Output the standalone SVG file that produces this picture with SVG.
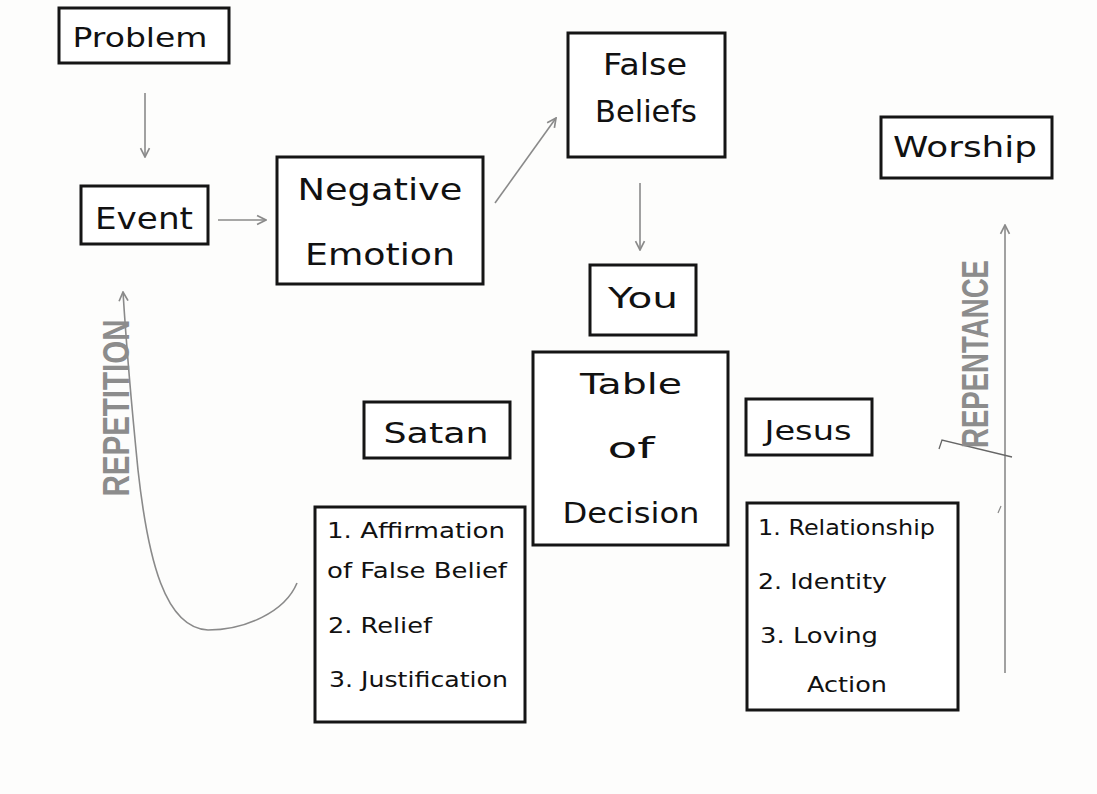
<svg xmlns="http://www.w3.org/2000/svg" width="1097" height="794" viewBox="0 0 1097 794">
<style>
.box{fill:#fff;stroke:#151515;stroke-width:3}
.t{font-family:"DejaVu Sans","Liberation Sans",sans-serif;fill:#111;text-anchor:middle}
.l{font-family:"DejaVu Sans","Liberation Sans",sans-serif;fill:#111;font-size:21px}
.c{fill:none;stroke:#8a8a8a;stroke-width:1.6}
.v{font-family:"Liberation Sans","DejaVu Sans",sans-serif;font-weight:bold;fill:#8c8c8c;text-anchor:middle}
</style>
<defs>
<marker id="ah" viewBox="0 0 10 10" refX="9" refY="5" markerWidth="7" markerHeight="7" orient="auto" markerUnits="strokeWidth">
<path d="M1,1 L9,5 L1,9" fill="none" stroke="#8a8a8a" stroke-width="1.5"/>
</marker>
</defs>
<rect x="0" y="0" width="1097" height="794" fill="#fdfdfc"/>
<g id="connectors">
<line class="c" x1="145" y1="93" x2="145" y2="157" marker-end="url(#ah)"/>
<line class="c" x1="218" y1="220" x2="266" y2="220" marker-end="url(#ah)"/>
<line class="c" x1="495" y1="203" x2="556" y2="118" marker-end="url(#ah)"/>
<line class="c" x1="640" y1="183" x2="640" y2="250" marker-end="url(#ah)"/>
<path class="c" d="M297,583 C285,612 245,630 208,630 C165,628 148,560 138,470 C132,410 126,340 123,292" marker-end="url(#ah)"/>
<line class="c" x1="1005" y1="673" x2="1005" y2="225" marker-end="url(#ah)"/>
<path d="M939,449 L942,440 L1012,457" fill="none" stroke="#666" stroke-width="1.3"/>
<path d="M998,513 L1001,506" fill="none" stroke="#888" stroke-width="1.2"/>
<text class="v" font-size="36" transform="translate(129,408) rotate(-90)" textLength="177" lengthAdjust="spacingAndGlyphs">REPETITION</text>
<text class="v" font-size="36" transform="translate(988,354) rotate(-90)" textLength="188" lengthAdjust="spacingAndGlyphs">REPENTANCE</text>
</g>
<g id="problem"><rect class="box" x="59" y="8" width="170" height="55"/><text class="t" x="140" y="47" font-size="27" textLength="135" lengthAdjust="spacingAndGlyphs">Problem</text></g>
<g id="event"><rect class="box" x="81" y="186" width="127" height="58"/><text class="t" x="144" y="229" font-size="31" textLength="98" lengthAdjust="spacingAndGlyphs">Event</text></g>
<g id="negative-emotion"><rect class="box" x="277" y="157" width="206" height="127"/><text class="t" x="380" y="200" font-size="30" textLength="165" lengthAdjust="spacingAndGlyphs">Negative</text><text class="t" x="380" y="265" font-size="30" textLength="150" lengthAdjust="spacingAndGlyphs">Emotion</text></g>
<g id="false-beliefs"><rect class="box" x="568" y="33" width="157" height="124"/><text class="t" x="645" y="75" font-size="30" textLength="84" lengthAdjust="spacingAndGlyphs">False</text><text class="t" x="646" y="122" font-size="30" textLength="102" lengthAdjust="spacingAndGlyphs">Beliefs</text></g>
<g id="worship"><rect class="box" x="881" y="117" width="171" height="61"/><text class="t" x="965" y="157" font-size="28" textLength="144" lengthAdjust="spacingAndGlyphs">Worship</text></g>
<g id="you"><rect class="box" x="590" y="265" width="106" height="70"/><text class="t" x="643" y="308" font-size="29" textLength="70" lengthAdjust="spacingAndGlyphs">You</text></g>
<g id="table-of-decision"><rect class="box" x="533" y="352" width="195" height="193"/><text class="t" x="631" y="394" font-size="29" textLength="102" lengthAdjust="spacingAndGlyphs">Table</text><text class="t" x="631" y="458" font-size="29" textLength="47" lengthAdjust="spacingAndGlyphs">of</text><text class="t" x="631" y="523" font-size="29" textLength="137" lengthAdjust="spacingAndGlyphs">Decision</text></g>
<g id="satan"><rect class="box" x="364" y="402" width="146" height="56"/><text class="t" x="436" y="443" font-size="29" textLength="105" lengthAdjust="spacingAndGlyphs">Satan</text></g>
<g id="jesus"><rect class="box" x="746" y="399" width="126" height="56"/><text class="t" x="808" y="440" font-size="26" textLength="87" lengthAdjust="spacingAndGlyphs">Jesus</text></g>
<g id="satan-list"><rect class="box" x="315" y="507" width="210" height="215"/>
<text class="l" x="327" y="538" textLength="178" lengthAdjust="spacingAndGlyphs">1.  Affirmation</text>
<text class="l" x="327" y="578" textLength="180" lengthAdjust="spacingAndGlyphs">of False Belief</text>
<text class="l" x="328" y="633" textLength="104" lengthAdjust="spacingAndGlyphs">2.  Relief</text>
<text class="l" x="329" y="687" textLength="179" lengthAdjust="spacingAndGlyphs">3.  Justification</text></g>
<g id="jesus-list"><rect class="box" x="747" y="503" width="211" height="207"/>
<text class="l" x="758" y="535" textLength="177" lengthAdjust="spacingAndGlyphs">1.  Relationship</text>
<text class="l" x="758" y="589" textLength="129" lengthAdjust="spacingAndGlyphs">2.  Identity</text>
<text class="l" x="760" y="643" textLength="118" lengthAdjust="spacingAndGlyphs">3.  Loving</text>
<text class="l" x="807" y="692" textLength="80" lengthAdjust="spacingAndGlyphs">Action</text></g>
</svg>
